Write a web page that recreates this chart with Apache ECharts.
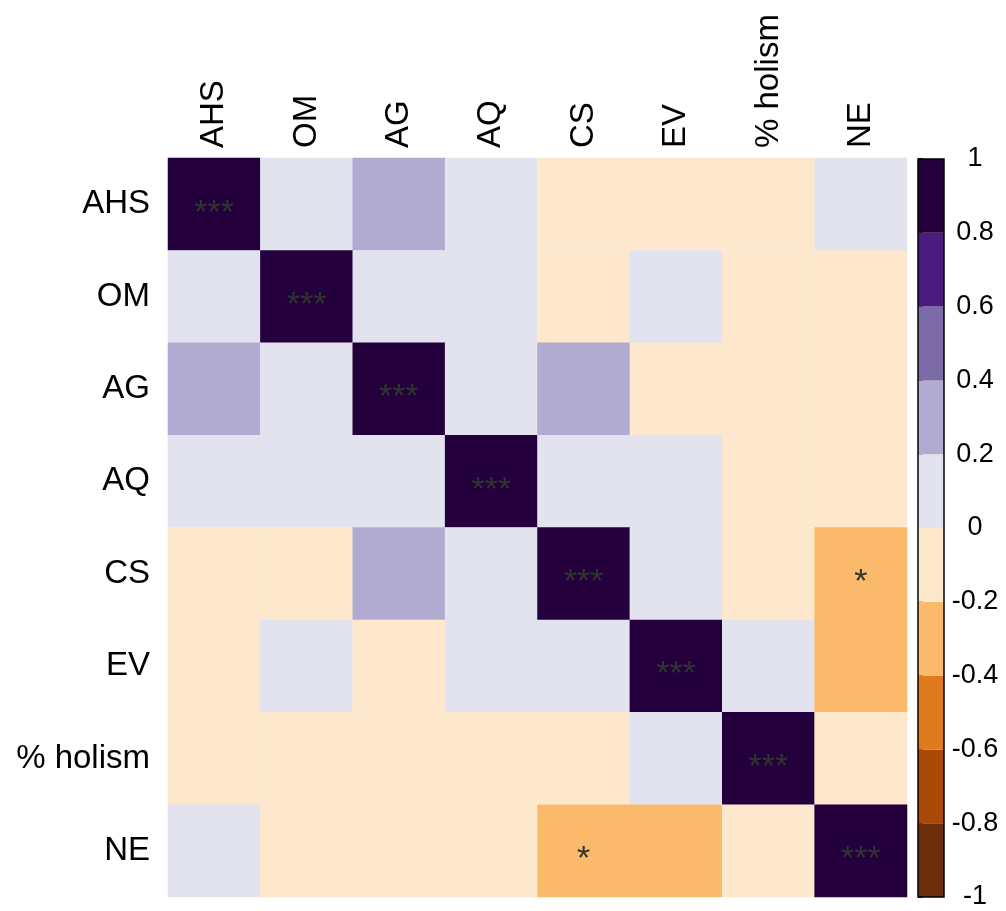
<!DOCTYPE html>
<html>
<head>
<meta charset="utf-8">
<script src="https://cdn.jsdelivr.net/npm/echarts@6/dist/echarts.min.js"></script>
<style>html,body{margin:0;padding:0;background:#fff}#c{width:1006px;height:911px}</style>
</head>
<body>
<div id="c"></div>
<script>
const categories = ['AHS', 'OM', 'AG', 'AQ', 'CS', 'EV', '% holism', 'NE'];
// correlation matrix (rows top to bottom), estimated from colour bins
const corr = [
  [1.00, 0.08, 0.30, 0.10, -0.10, -0.12, -0.08, 0.05],
  [0.08, 1.00, 0.12, 0.06, -0.05, 0.10, -0.10, -0.15],
  [0.30, 0.12, 1.00, 0.09, 0.28, -0.07, -0.11, -0.13],
  [0.10, 0.06, 0.09, 1.00, 0.15, 0.11, -0.09, -0.06],
  [-0.10, -0.05, 0.28, 0.15, 1.00, 0.07, -0.14, -0.32],
  [-0.12, 0.10, -0.07, 0.11, 0.07, 1.00, 0.04, -0.27],
  [-0.08, -0.10, -0.11, -0.09, -0.14, 0.04, 1.00, -0.18],
  [0.05, -0.15, -0.13, -0.06, -0.32, -0.27, -0.18, 1.00]
];
const signif = [
  ['***', '', '', '', '', '', '', ''],
  ['', '***', '', '', '', '', '', ''],
  ['', '', '***', '', '', '', '', ''],
  ['', '', '', '***', '', '', '', ''],
  ['', '', '', '', '***', '', '', '*'],
  ['', '', '', '', '', '***', '', ''],
  ['', '', '', '', '', '', '***', ''],
  ['', '', '', '', '*', '', '', '***']
];
const breaks = [-1, -0.8, -0.6, -0.4, -0.2, 0, 0.2, 0.4, 0.6, 0.8, 1];
const binColors = ['#6b2f0c', '#ab4a08', '#e07b1d', '#fbb96b', '#fde8cd',
                   '#e3e3f0', '#b1abd2', '#7a6aa6', '#4a1c80', '#24003c'];

const heatData = [];
corr.forEach((row, i) => row.forEach((v, j) => heatData.push([j, i, v, signif[i][j]])));
const pieces = binColors.map((c, k) => ({ gte: breaks[k], lt: breaks[k + 1], color: c }));
pieces[pieces.length - 1].lte = 1; delete pieces[pieces.length - 1].lt;
const barData = binColors.map((c, k) => [0, breaks[k], breaks[k + 1], c]);

const FONT = 'Liberation Sans, Arial, sans-serif';
const chart = echarts.init(document.getElementById('c'));
chart.setOption({
  animation: false,
  backgroundColor: '#ffffff',
  grid: [
    { left: 168, top: 158, width: 739, height: 739 },
    { left: 918, top: 159, width: 26, height: 738, show: true, borderColor: '#000', borderWidth: 1.5, backgroundColor: 'transparent', z: 5 }
  ],
  xAxis: [
    { type: 'category', gridIndex: 0, data: categories, position: 'top',
      axisLine: { show: false }, axisTick: { show: false }, splitLine: { show: false },
      axisLabel: { rotate: -90, margin: 10, fontSize: 33, color: '#000', fontFamily: FONT } },
    { type: 'value', gridIndex: 1, min: 0, max: 1, show: false }
  ],
  yAxis: [
    { type: 'category', gridIndex: 0, data: categories, inverse: true,
      axisLine: { show: false }, axisTick: { show: false }, splitLine: { show: false },
      axisLabel: { margin: 18, fontSize: 33, color: '#000', fontFamily: FONT } },
    { type: 'value', gridIndex: 1, min: -1, max: 1, interval: 0.2, position: 'right',
      axisLine: { show: false }, splitLine: { show: false },
      axisTick: { show: true, length: 5, lineStyle: { color: '#000', width: 1.5 } },
      axisLabel: { margin: 31, align: 'center', fontSize: 27, color: '#000', fontFamily: FONT,
        formatter: v => String(Math.round(v * 10) / 10) } }
  ],
  visualMap: {
    show: false, type: 'piecewise', seriesIndex: 0, dimension: 2, pieces: pieces
  },
  series: [
    {
      type: 'heatmap', xAxisIndex: 0, yAxisIndex: 0, data: heatData,
      itemStyle: { borderWidth: 0 },
      label: {
        show: true, formatter: p => p.data[3], offset: [0, 9],
        fontSize: 34, fontFamily: FONT,
        color: '#2e352e'
      },
      emphasis: { disabled: true }
    },
    {
      type: 'custom', xAxisIndex: 1, yAxisIndex: 1, data: barData,
      renderItem: (params, api) => {
        const p0 = api.coord([0, api.value(1)]);
        const p1 = api.coord([1, api.value(2)]);
        return { type: 'rect', shape: { x: p0[0], y: p1[1], width: p1[0] - p0[0], height: p0[1] - p1[1] },
          style: { fill: barData[params.dataIndex][3] } };
      },
      silent: true
    }
  ]
});
</script>
</body>
</html>
